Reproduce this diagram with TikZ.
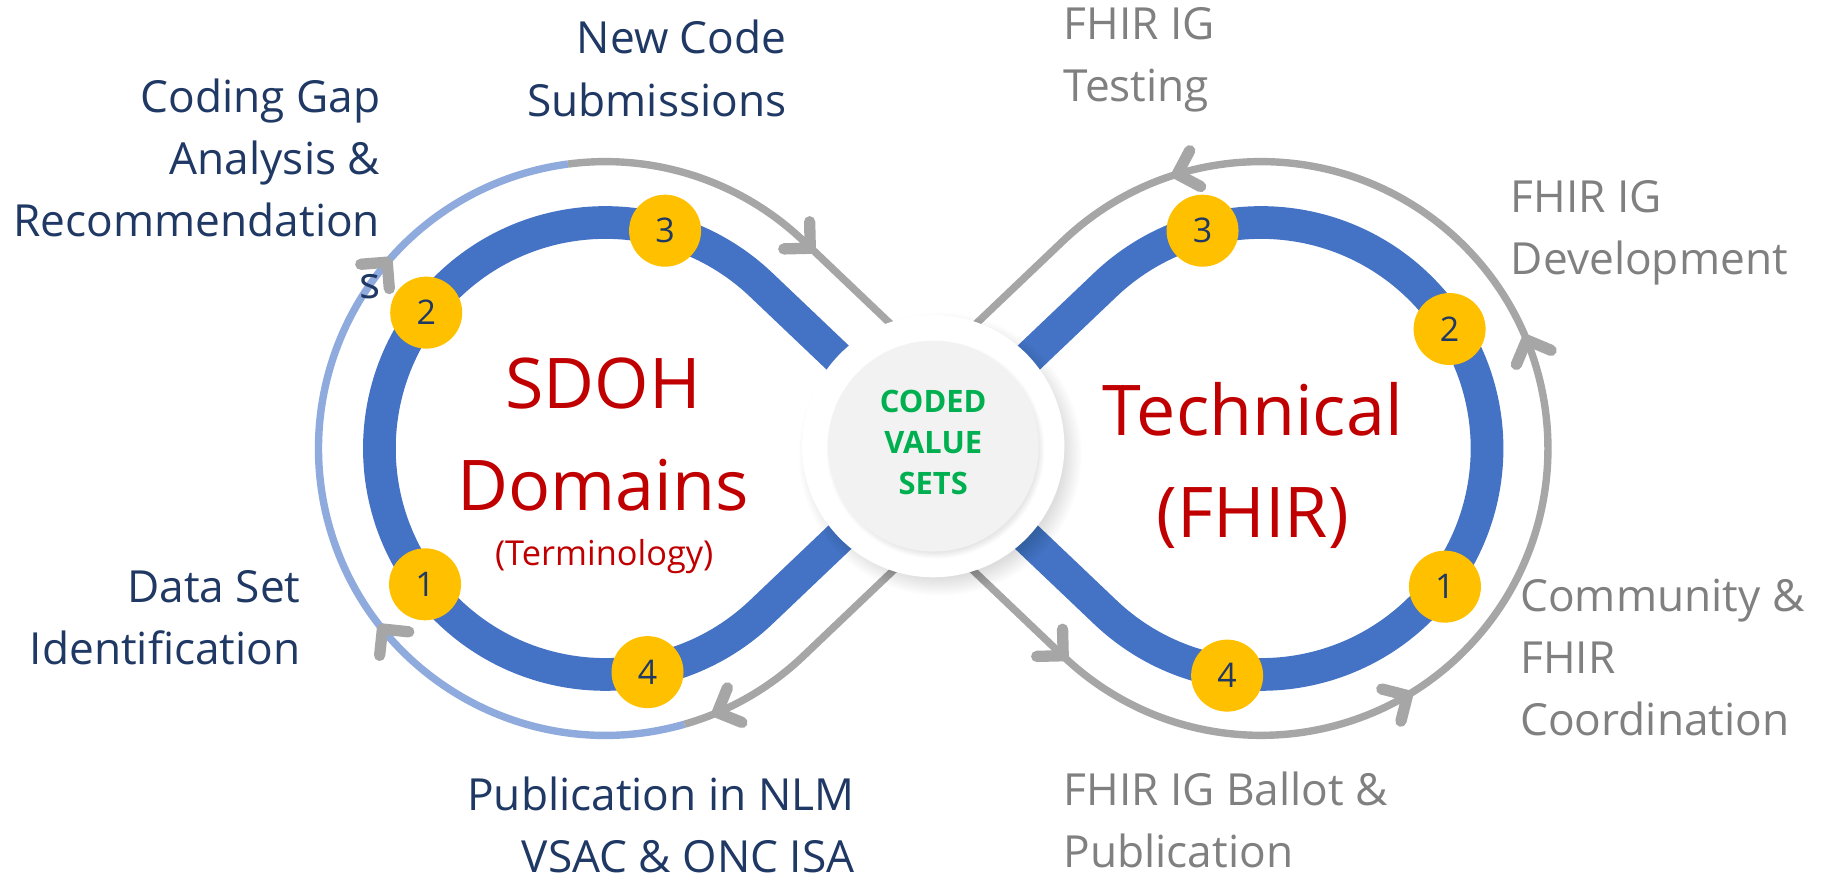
\documentclass[tikz,border=0pt]{standalone}
\usepackage{fontspec}
\setmainfont{Open Sans}
\usetikzlibrary{calc}
\definecolor{bandblue}{HTML}{4472C4}
\definecolor{lightblue}{HTML}{8FAADC}
\definecolor{trackgray}{HTML}{A6A6A6}
\definecolor{gold}{HTML}{FFC000}
\definecolor{navy}{HTML}{1F3864}
\definecolor{graytext}{HTML}{808080}
\definecolor{titlered}{HTML}{C00000}
\definecolor{codegreen}{HTML}{00B050}
\definecolor{innergray}{HTML}{F2F2F2}
\tikzset{chev/.pic={\draw[chevline] (-16,-16) -- (0,0) -- (-16,16);}}
\begin{document}
\begin{tikzpicture}[x=0.02cm,y=-0.02cm,
  bandline/.style={line width=15.9pt, draw=bandblue},
  trackblue/.style={line width=3.6pt, draw=lightblue},
  trackgrayl/.style={line width=3.6pt, draw=trackgray},
  chevline/.style={line width=5.5pt, draw=trackgray, line cap=round, line join=round},
  numc/.style={circle, fill=gold, minimum size=35pt, inner sep=0pt, text=navy, font=\fontsize{16.5}{19}\selectfont},
  lbl/.style={inner sep=0pt, font=\fontsize{21.5}{30.2}\selectfont},
  navylbl/.style={lbl, text=navy, align=right, anchor=north east},
  graylbl/.style={lbl, text=graytext, align=left, anchor=north west},
  titletext/.style={inner sep=0pt, text=titlered, align=center, anchor=north, font=\fontsize{34}{49.5}\selectfont},
]
\useasboundingbox (0,0) rectangle (1568,753.2);
\coordinate (Lc) at (517,383);
\coordinate (Rc) at (1077,383);
\coordinate (C) at (797,383);
\coordinate (Xt) at (797,311.3);
\coordinate (Xb) at (797,454.7);

% outer tracks
\draw[trackblue] (Lc) ++(74:245) arc[start angle=74, end angle=262.5, radius=245];
\draw[trackgrayl] (Lc) ++(262.5:245) arc[start angle=262.5, end angle=313.6, radius=245] -- (Xt);
\draw[trackgrayl] (Xb) -- ($(Lc)+(46.4:245)$) arc[start angle=46.4, end angle=74, radius=245];
\draw[trackgrayl] (Xb) -- ($(Rc)+(133.6:245)$) arc[start angle=133.6, end angle=-133.6, radius=245] -- (Xt);

% figure-eight band
\draw[bandline] (C) -- ($(Lc)+(-46.4:193)$) arc[start angle=-46.4, end angle=-313.6, radius=193]
  -- (C) -- ($(Rc)+(-133.6:193)$) arc[start angle=-133.6, end angle=133.6, radius=193] -- cycle;

% arrowheads
\path (326.6,537.2) pic[rotate=129] {chev};
\path (330.7,223.9) pic[rotate=49.5] {chev};
\path (692,212) pic[rotate=-43.6] {chev};
\path (612.7,608.5) pic[rotate=203] {chev};
\path (908,560) pic[rotate=-43.6] {chev};
\path (1202,594) pic[rotate=30.7] {chev};
\path (1303.8,290.4) pic[rotate=112.2] {chev};
\path (1005.4,148.7) pic[rotate=197] {chev};

% numbered steps
\node[numc] (L1) at (363,499) {1};
\node[numc] (L2) at (364,267) {2};
\node[numc] (L3) at (568,197) {3};
\node[numc] (L4) at (553,574) {4};
\node[numc] (R1) at (1234,501) {1};
\node[numc] (R2) at (1238,281) {2};
\node[numc] (R3) at (1027,197) {3};
\node[numc] (R4) at (1048,577) {4};

% central hub with shadow
\foreach \i in {0,...,16} \fill[black, opacity=0.009] (803,388) circle[radius=105+\i];
\fill[white] (797,381) circle[radius=112];
\foreach \i in {0,...,5} \fill[black, opacity=0.014] (799,384) circle[radius=88+\i];
\fill[innergray] (797,381) circle[radius=90];
\node[inner sep=0pt, text=codegreen, align=center, anchor=north, font=\bfseries\fontsize{15}{19.9}\selectfont] (cvs) at (797,333) {CODED\\VALUE\\SETS};

% titles
\node[titletext] (sdoh) at (515,305) {SDOH\\Domains};
\node[inner sep=0pt, text=titlered, anchor=base, font=\fontsize{16.7}{20}\selectfont] (term) at (516,483) {(Terminology)};
\node[titletext] (tech) at (1070,326.6) {Technical\\(FHIR)};

% labels
\node[navylbl] (newcode) at (672,17) {New Code\\Submissions};
\node[navylbl] (gap) at (325,67) {Coding Gap\\Analysis \&\\Recommendation\\s};
\node[navylbl] (dataset) at (257,487) {Data Set\\Identification};
\node[navylbl] (pub) at (730,663) {Publication in NLM\\VSAC \& ONC ISA};
\node[graylbl] (test) at (908,6) {FHIR IG\\Testing};
\node[graylbl] (dev) at (1290,154) {FHIR IG\\Development};
\node[graylbl] (comm) at (1298,494) {Community \&\\FHIR\\Coordination};
\node[graylbl] (ballot) at (908,659) {FHIR IG Ballot \&\\Publication};
\end{tikzpicture}
\end{document}
